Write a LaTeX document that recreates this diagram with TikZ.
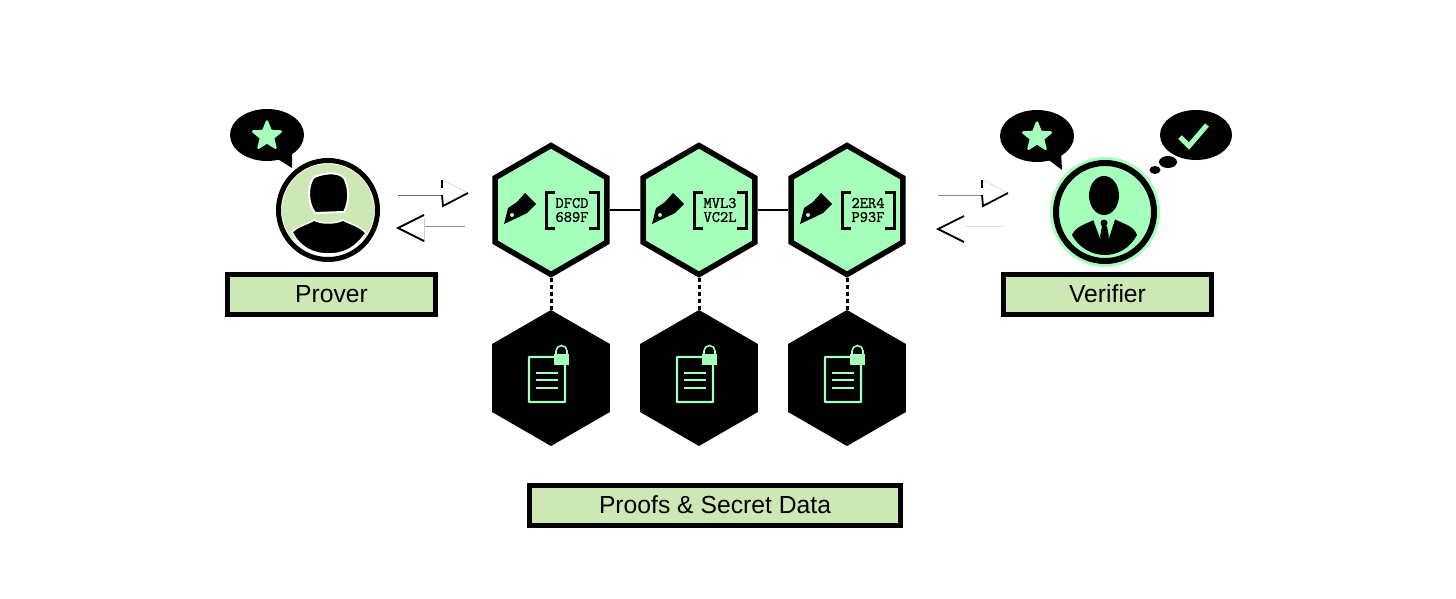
\documentclass[tikz,border=0pt]{standalone}
\usepackage{fontspec}
\setmainfont{Liberation Sans}
\newfontfamily\keyfont{Latin Modern Mono}[FakeBold=1.2]
\usepackage{tikz}
\usetikzlibrary{positioning,shapes.geometric}
\definecolor{mint}{HTML}{A5FFBA}
\definecolor{pale}{HTML}{CDE8B5}

\tikzset{
  pics/penicon/.style={code={
    \fill[black] (-47,14) -- (-43,-2) -- (-34,-8) -- (-26,-17) -- (-15,-6) -- (-24,3) -- (-28,5) -- cycle;
    \fill[mint] (-39,5) circle (2);
    \draw[black, line width=3pt] (4,-18) -- (-5,-18) -- (-5,18) -- (4,18);
    \draw[black, line width=3pt] (38,-18) -- (47,-18) -- (47,18) -- (38,18);
  }},
  pics/docicon/.style={code={
    \draw[mint, line width=2.4pt, rounded corners=.5pt] (-22,-21) rectangle (14,24);
    \foreach \yy in {-5,2,10} {
      \draw[mint, line width=1.8pt] (-15,\yy) -- (7,\yy);
    }
    \fill[mint] (3,-24) rectangle (18,-13);
    \draw[mint, line width=1.6pt] (5,-24) -- (5,-27) arc[start angle=180, end angle=360, radius=5.5] -- (16,-24);
  }},
  pics/headright/.style={code={
    \draw[black!15, line width=.7pt] (1,-15) -- (26,-2);
    \draw[black, line width=1.8pt] (26,-2) -- (1,11) -- (0,0);
    \draw[black, line width=1.2pt] (0,-15) -- (0,-7);
  }},
  pics/headleft/.style={code={
    \draw[black, line width=1.8pt] (26,-13) -- (0,0) -- (26,13);
  }},
}

\begin{document}
\begin{tikzpicture}[
  x=1pt, y=-1pt,
  hexa/.style={regular polygon, regular polygon sides=6, shape border rotate=30, inner sep=0pt, minimum size=129pt, draw=black, line width=5.5pt, fill=mint},
  lockhex/.style={regular polygon, regular polygon sides=6, shape border rotate=30, inner sep=0pt, minimum size=136pt, fill=black},
  keytext/.style={font=\keyfont\fontsize{16}{14}\selectfont, align=center, inner sep=0pt, text=black},
  labelbox/.style={draw=black, line width=5pt, fill=pale, minimum height=40pt, inner sep=0pt, font=\fontsize{24.7}{28}\selectfont},
  bubble/.style={ellipse, fill=black, inner sep=0pt},
  badge/.style={star, star points=5, star point ratio=2.3, inner sep=0pt, minimum size=29pt, fill=mint, draw=mint, line width=2.5pt, line join=round},
  avatar/.style={circle, inner sep=0pt, draw=black},
  link/.style={line width=2.5pt},
  dashlink/.style={line width=3pt, dash pattern=on 4pt off 3pt},
  thinarrow/.style={line width=.9pt, draw=black!45},
  node distance=148pt, on grid
]
\useasboundingbox (0,0) rectangle (1456,599);

% proof hexagons
\node[hexa] (h1) at (551,210) {};
\node[hexa, right=of h1] (h2) {};
\node[hexa, right=of h2] (h3) {};

\node[lockhex] (d1) at (551,378) {};
\node[lockhex, right=of d1] (d2) {};
\node[lockhex, right=of d2] (d3) {};

\draw[link] (h1) -- (h2);
\draw[link] (h2) -- (h3);
\draw[dashlink] (h1.south) -- (d1.north);
\draw[dashlink] (h2.south) -- (d2.north);
\draw[dashlink] (h3.south) -- (d3.north);

\pic at (h1) {penicon};
\pic at (h2) {penicon};
\pic at (h3) {penicon};
\pic at (d1) {docicon};
\pic at (d2) {docicon};
\pic at (d3) {docicon};

\node[keytext, right=21pt of h1] (k1) {DFCD\\689F};
\node[keytext, right=21pt of h2] (k2) {MVL3\\VC2L};
\node[keytext, right=21pt of h3] (k3) {2ER4\\P93F};

% labels
\node[labelbox, minimum width=208pt] (plabel) at (331.5,294) {Prover};
\node[labelbox, minimum width=208pt] (vlabel) at (1107.5,294) {Verifier};
\node[labelbox, minimum width=371pt] (dlabel) at (715,505) {Proofs \& Secret Data};

% prover
\node[bubble, minimum width=74pt, minimum height=52pt] (pb) at (267,135) {};
\fill[black] (276,158) -- (292,168) -- (292,152) -- cycle;
\node[badge] (ps) at (267,136) {};
\node[avatar, fill=white, line width=5pt, minimum size=99pt] (pc) at (328,210) {};
\begin{scope}
  \clip (270,150) rectangle (385,238);
  \fill[pale] (pc) circle (46);
\end{scope}
\fill[black, draw=white, line width=2pt] (313,178) .. controls (318,174) and (338,170) .. (344,178)
  .. controls (349,186) and (350,202) .. (344,212) -- (315,213)
  .. controls (308,204) and (307,188) .. (313,178) -- cycle;
\fill[black, draw=white, line width=1.5pt] (292,232) .. controls (298,226) and (308,224) .. (314,220)
  .. controls (320,224) and (336,224) .. (343,220) .. controls (350,224) and (360,226) .. (366,233)
  .. controls (354,250) and (342,254) .. (328,254) .. controls (314,254) and (300,248) .. (292,232) -- cycle;

% verifier
\node[bubble, minimum width=74pt, minimum height=52pt] (vb) at (1037,136) {};
\fill[black] (1046,158) -- (1062,170) -- (1061,152) -- cycle;
\node[badge] (vs) at (1037,137) {};
\node[bubble, minimum width=72pt, minimum height=50pt] (tb) at (1196,135) {};
\node[bubble, minimum width=18pt, minimum height=12pt] (t1) at (1168,162) {};
\node[bubble, minimum width=11pt, minimum height=8pt] (t2) at (1155,170) {};
\draw[mint, line width=5pt] (1180,137) -- (1189,146) -- (1207,125);

\node[circle, inner sep=0pt, fill=mint, minimum size=110pt] (vh) at (1105,212) {};
\node[avatar, fill=mint, line width=6pt, minimum size=98pt] (vc) at (vh) {};
\fill[black] (1104,195.5) ellipse[x radius=15, y radius=19.5];
\fill[black] (1072,235) .. controls (1076,226) and (1086,224) .. (1096,219) -- (1114,219)
  .. controls (1124,224) and (1134,226) .. (1137,235)
  .. controls (1130,248) and (1118,255) .. (1105,255) .. controls (1092,255) and (1079,248) .. (1072,235) -- cycle;
\fill[mint] (1093,219) -- (1100,218) -- (1110,218) -- (1115,219) -- (1109,238) -- (1100,238) -- cycle;
\fill[black] (1104,223) circle (3.5);
\fill[black] (1102,226) -- (1107,226) -- (1109,237) -- (1104.5,241) -- (1100,237) -- cycle;

% message arrows
\coordinate (pa) at (398,195);
\coordinate (pb2) at (442,195);
\coordinate (pc2) at (465,226);
\coordinate (pd) at (424,226);
\coordinate (va) at (938,195);
\coordinate (vb2) at (982,195);
\coordinate (vc2) at (1004,226);
\coordinate (vd) at (965,226);

\draw[thinarrow, draw=black!60] (pa) -- (pb2);
\pic at (pb2) {headright};
\draw[thinarrow] (pc2) -- (pd);
\draw[black!20, line width=.7pt] (424,218) -- (424,242);
\pic at (398,228) {headleft};

\draw[thinarrow] (va) -- (vb2);
\pic at (vb2) {headright};
\draw[black!12, line width=.8pt] (vc2) -- (vd);
\pic at (938,229) {headleft};

\end{tikzpicture}
\end{document}
